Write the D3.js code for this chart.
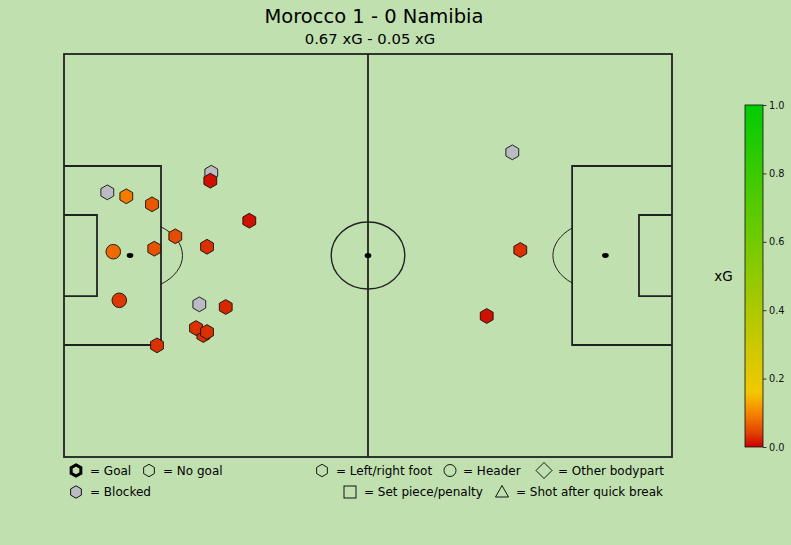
<!DOCTYPE html>
<html><head><meta charset="utf-8">
<script src="https://cdn.jsdelivr.net/npm/d3@7"></script>
<style>
html,body{margin:0;padding:0;background:#c0e0b0;}
svg{display:block;font-family:"DejaVu Sans",sans-serif;}
</style></head>
<body>
<svg id="chart" width="791" height="545"></svg>
<script>
// ---------- data ----------
const teams = ["Morocco", "Namibia"];
const goals = [1, 0];
const teamXG = [0.67, 0.05];
// shot locations on a 105 x 68 pitch
const shotX = [25.44, 7.48, 23.37, 77.42, 24.06, 10.76, 15.20, 19.22, 15.59, 8.51, 9.55, 16.06, 25.27, 32.00, 24.70, 27.93, 22.80, 24.70, 78.80, 73.00];
const shotY = [20.03, 23.34, 42.24, 16.59, 47.42, 24.01, 25.36, 30.76, 32.85, 33.36, 41.56, 49.16, 21.38, 28.13, 32.52, 42.69, 46.24, 46.91, 33.07, 44.21];
const shotXG = [0.02, 0.03, 0.03, 0.02, 0.03, 0.09, 0.06, 0.05, 0.055, 0.075, 0.035, 0.03, 0.01, 0.01, 0.03, 0.025, 0.03, 0.03, 0.03, 0.01];
const shotBlocked = [true, true, true, true, false, false, false, false, false, false, false, false, false, false, false, false, false, false, false, false];
const shotBody = ["foot","foot","foot","foot","foot","foot","foot","foot","foot","head","head","foot","foot","foot","foot","foot","foot","foot","foot","foot"];
const colorbarTicks = [0, 0.2, 0.4, 0.6, 0.8, 1.0];
const legendRow1 = ["= Goal", "= No goal", "= Left/right foot", "= Header", "= Other bodypart"];
const legendRow2 = ["= Blocked", "= Set piece/penalty", "= Shot after quick break"];

// ---------- setup ----------
const svg = d3.select("#chart");
const BG = "#c0e0b0", LINE = "#222";
svg.append("rect").attr("width", 791).attr("height", 545).attr("fill", BG);

const x = d3.scaleLinear().domain([0, 105]).range([64, 672]);
const y = d3.scaleLinear().domain([0, 68]).range([54, 457]);
const xgColor = d3.scaleLinear()
  .domain([0, 0.04, 0.08, 0.11, 0.16, 1])
  .range(["#cc0000", "#e04000", "#f07000", "#f89000", "#f2c800", "#00cc00"])
  .clamp(true);

function hexPath(cx, cy, r) {
  const pts = d3.range(6).map(k => {
    const a = (-90 + 60 * k) * Math.PI / 180;
    return [cx + r * Math.cos(a), cy + r * Math.sin(a)];
  });
  return "M" + pts.map(p => p.join(",")).join("L") + "Z";
}

// ---------- titles ----------
svg.append("text").attr("x", 374).attr("y", 22.5).attr("text-anchor", "middle")
  .attr("font-size", 19.5).attr("fill", "#000")
  .text(`${teams[0]} ${goals[0]} - ${goals[1]} ${teams[1]}`);
svg.append("text").attr("x", 370).attr("y", 44).attr("text-anchor", "middle")
  .attr("font-size", 14.8).attr("fill", "#000")
  .text(`${teamXG[0].toFixed(2)} xG - ${teamXG[1].toFixed(2)} xG`);

// ---------- pitch ----------
const g = svg.append("g").attr("fill", "none").attr("stroke", LINE);
const cy = y(34);
g.append("rect").attr("x", x(0)).attr("y", y(0)).attr("width", x(105) - x(0)).attr("height", y(68) - y(0)).attr("stroke-width", 1.8);
g.append("line").attr("x1", x(52.5)).attr("x2", x(52.5)).attr("y1", y(0)).attr("y2", y(68)).attr("stroke-width", 1.8);
// boxes
g.append("polyline").attr("points", [[x(0), y(18.9)], [x(16.75), y(18.9)], [x(16.75), y(49.1)], [x(0), y(49.1)]].join(" ")).attr("stroke-width", 1.8);
g.append("polyline").attr("points", [[x(105), y(18.9)], [x(87.75), y(18.9)], [x(87.75), y(49.1)], [x(105), y(49.1)]].join(" ")).attr("stroke-width", 1.8);
g.append("polyline").attr("points", [[x(0), y(27.17)], [x(5.7), y(27.17)], [x(5.7), y(40.84)], [x(0), y(40.84)]].join(" ")).attr("stroke-width", 1.8);
g.append("polyline").attr("points", [[x(105), y(27.17)], [x(99.3), y(27.17)], [x(99.3), y(40.84)], [x(105), y(40.84)]].join(" ")).attr("stroke-width", 1.8);
// center circle & spots
g.append("ellipse").attr("cx", x(52.5)).attr("cy", cy).attr("rx", x(6.36) - x(0)).attr("ry", y(5.65) - y(0)).attr("stroke-width", 1.4);
svg.append("ellipse").attr("cx", x(52.5)).attr("cy", cy).attr("rx", 3.3).attr("ry", 2.6).attr("fill", "#000");
[11.4, 93.5].forEach(sx => svg.append("ellipse").attr("cx", x(sx)).attr("cy", cy).attr("rx", 3.3).attr("ry", 2.4).attr("fill", "#000"));
// penalty arcs
const arcRx = 52.5, arcRy = 35.5;
[[11.4, 16.75, 1], [93.5, 87.75, -1]].forEach(([sx, bx, dir]) => {
  const dx = Math.abs(x(bx) - x(sx));
  const dy = arcRy * Math.sqrt(1 - (dx / arcRx) ** 2);
  g.append("path").attr("stroke-width", 1)
    .attr("d", `M${x(bx)},${cy - dy} A${arcRx},${arcRy} 0 0 ${dir > 0 ? 1 : 0} ${x(bx)},${cy + dy}`);
});

// ---------- shots ----------
const shots = shotX.map((sx, i) => ({ x: shotX[i], y: shotY[i], xg: shotXG[i], blocked: shotBlocked[i], body: shotBody[i] }));
const sg = svg.append("g");
shots.forEach(s => {
  const fill = s.blocked ? "#bbbbc3" : xgColor(s.xg);
  if (s.body === "head") {
    sg.append("circle").attr("cx", x(s.x)).attr("cy", y(s.y)).attr("r", 7.3)
      .attr("fill", fill).attr("stroke", "#111").attr("stroke-width", 0.9);
  } else {
    sg.append("path").attr("d", hexPath(x(s.x), y(s.y), 7.4))
      .attr("fill", fill).attr("stroke", "#111").attr("stroke-width", 0.9);
  }
});

// ---------- colorbar ----------
const cbX = 745, cbW = 18, cbTop = 105, cbBot = 447;
const cbScale = d3.scaleLinear().domain([0, 1]).range([cbBot, cbTop]);
const defs = svg.append("defs");
const grad = defs.append("linearGradient").attr("id", "cbgrad").attr("x1", 0).attr("x2", 0).attr("y1", 1).attr("y2", 0);
d3.range(0, 1.0001, 0.01).forEach(v => grad.append("stop").attr("offset", v).attr("stop-color", xgColor(v)));
svg.append("rect").attr("x", cbX).attr("y", cbTop).attr("width", cbW).attr("height", cbBot - cbTop)
  .attr("fill", "url(#cbgrad)").attr("stroke", "#111").attr("stroke-width", 0.8);
const cbAxis = svg.append("g").attr("transform", `translate(${cbX + cbW},0)`)
  .call(d3.axisRight(cbScale).tickValues(colorbarTicks).tickFormat(d3.format(".1f")).tickSize(3.5).tickPadding(2.5));
cbAxis.select(".domain").remove();
cbAxis.selectAll("text").attr("font-size", 9.8).attr("font-family", "DejaVu Sans").attr("fill", "#111");
cbAxis.selectAll("line").attr("stroke", "#111").attr("stroke-width", 0.8);
svg.append("text").attr("x", 723.5).attr("y", 281).attr("text-anchor", "middle").attr("font-size", 13.5).attr("fill", "#000").text("xG");

// ---------- legend ----------
const lg = svg.append("g").attr("font-size", 12).attr("fill", "#000");
const row1Y = 470.5, row2Y = 492;
// markers
lg.append("path").attr("d", hexPath(76, row1Y, 5.6)).attr("fill", BG).attr("stroke", "#000").attr("stroke-width", 3);
lg.append("path").attr("d", hexPath(149, row1Y, 6.2)).attr("fill", "none").attr("stroke", "#000").attr("stroke-width", 0.9);
lg.append("path").attr("d", hexPath(322, row1Y, 6.2)).attr("fill", "none").attr("stroke", "#000").attr("stroke-width", 0.9);
lg.append("circle").attr("cx", 450).attr("cy", row1Y).attr("r", 6).attr("fill", "none").attr("stroke", "#000").attr("stroke-width", 0.9);
lg.append("path").attr("d", `M544,${row1Y - 8}L552,${row1Y}L544,${row1Y + 8}L536,${row1Y}Z`).attr("fill", "none").attr("stroke", "#000").attr("stroke-width", 0.9);
lg.append("path").attr("d", hexPath(76, row2Y, 6.2)).attr("fill", "#bbbbc3").attr("stroke", "#000").attr("stroke-width", 0.9);
lg.append("rect").attr("x", 344).attr("y", row2Y - 6).attr("width", 12).attr("height", 12).attr("fill", "none").attr("stroke", "#000").attr("stroke-width", 0.9);
lg.append("path").attr("d", `M502,${row2Y - 6.5}L508.5,${row2Y + 5}L495.5,${row2Y + 5}Z`).attr("fill", "none").attr("stroke", "#000").attr("stroke-width", 0.9);
// texts
const r1x = [90, 163, 336, 463, 558];
legendRow1.forEach((t, i) => lg.append("text").attr("x", r1x[i]).attr("y", row1Y + 4.3).text(t));
const r2x = [90, 364, 516];
legendRow2.forEach((t, i) => lg.append("text").attr("x", r2x[i]).attr("y", row2Y + 4.3).text(t));
</script>
</body></html>
